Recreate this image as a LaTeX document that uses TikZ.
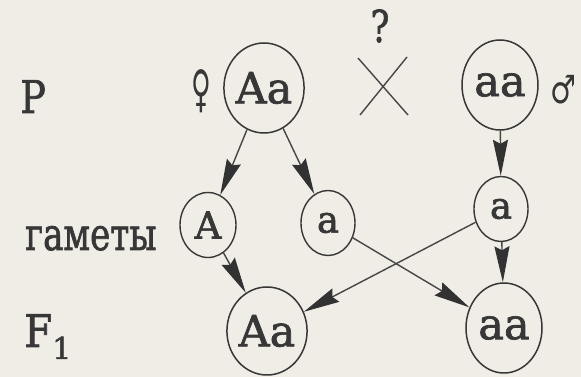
\documentclass[tikz,border=0pt]{standalone}
\usepackage{fontspec}
\setmainfont{DejaVu Serif}[FakeBold=1.6]
\newfontfamily\symfont{DejaVu Sans}
\usetikzlibrary{shapes.geometric,arrows.meta}
\definecolor{bgc}{RGB}{240,236,230}
\definecolor{ink}{RGB}{55,55,55}
\definecolor{lnc}{RGB}{70,70,70}
\definecolor{headc}{RGB}{50,50,50}
\tikzset{
  ovalbig/.style={ellipse,draw=ink,line width=1.5pt,minimum width=76pt,minimum height=90pt,inner sep=0pt,text=ink,font=\fontsize{43}{43}\selectfont},
  ovalsmall/.style={ellipse,draw=ink,line width=1.4pt,minimum width=54pt,minimum height=65pt,inner sep=0pt,text=ink,font=\fontsize{37}{37}\selectfont},
  lbl/.style={inner sep=0pt,text=ink,font=\fontsize{45}{45}\selectfont},
  arr/.style={draw=lnc,line width=1.4pt,-{Stealth[length=36pt,width=15pt,inset=4pt,color=headc,fill=headc]}, shorten >=0pt},
}
\begin{document}
\begin{tikzpicture}[x=1pt,y=1pt]
\fill[bgc] (0,0) rectangle (581,377);
\useasboundingbox (0,0) rectangle (581,377);
% row labels
\node[lbl,anchor=base west] (P) at (20,264) {\scalebox{0.85}[1]{P}};
\node[lbl,anchor=base west] (gam) at (25,127) {\scalebox{0.76}[1]{гаметы}};
\node[lbl,anchor=base west] (F) at (24,30) {\scalebox{0.9}[1]{F}\raisebox{-12pt}{\fontsize{30}{30}\selectfont 1}};
% parents
\node[ovalbig] (Paa) at (264,289) {Aa};
\node[ovalbig] (Pbb) at (500,292) {aa};
\node[inner sep=0pt,text=ink,font=\symfont\fontsize{36}{36}\selectfont] (fem) at (201,286) {\scalebox{0.75}[1.4]{♀}};
\node[inner sep=0pt,text=ink,font=\symfont\fontsize{34}{34}\selectfont] (mal) at (563,287) {\scalebox{0.85}[1.15]{♂}};
\node[inner sep=0pt,text=ink,font=\fontsize{44}{44}\selectfont] (q) at (380,351) {\scalebox{0.8}[1]{?}};
\coordinate (x1) at (358,319);
\coordinate (x2) at (408,262);
\coordinate (x3) at (407,320);
\coordinate (x4) at (360,262);
\draw[lnc,line width=1.4pt] (x1) -- (x2) (x3) -- (x4);
% gametes
\node[ovalsmall,minimum width=56pt] (gA) at (208,152) {A};
\node[ovalsmall] (ga1) at (328,154) {a};
\node[ovalsmall] (ga2) at (501,168) {a};
% F1
\node[ovalbig,minimum height=88pt] (FAa) at (267,46) {Aa};
\node[ovalbig] (Faa) at (504,49) {aa};
% arrows
\draw[arr] (Paa) -- (gA);
\draw[arr] (Paa) -- (ga1);
\draw[arr] (Pbb) -- (ga2);
\draw[arr] (gA) -- (FAa);
\draw[arr] (ga1) -- (Faa);
\draw[arr] (ga2) -- (FAa);
\draw[arr] (ga2) -- (Faa);
\end{tikzpicture}
\end{document}
